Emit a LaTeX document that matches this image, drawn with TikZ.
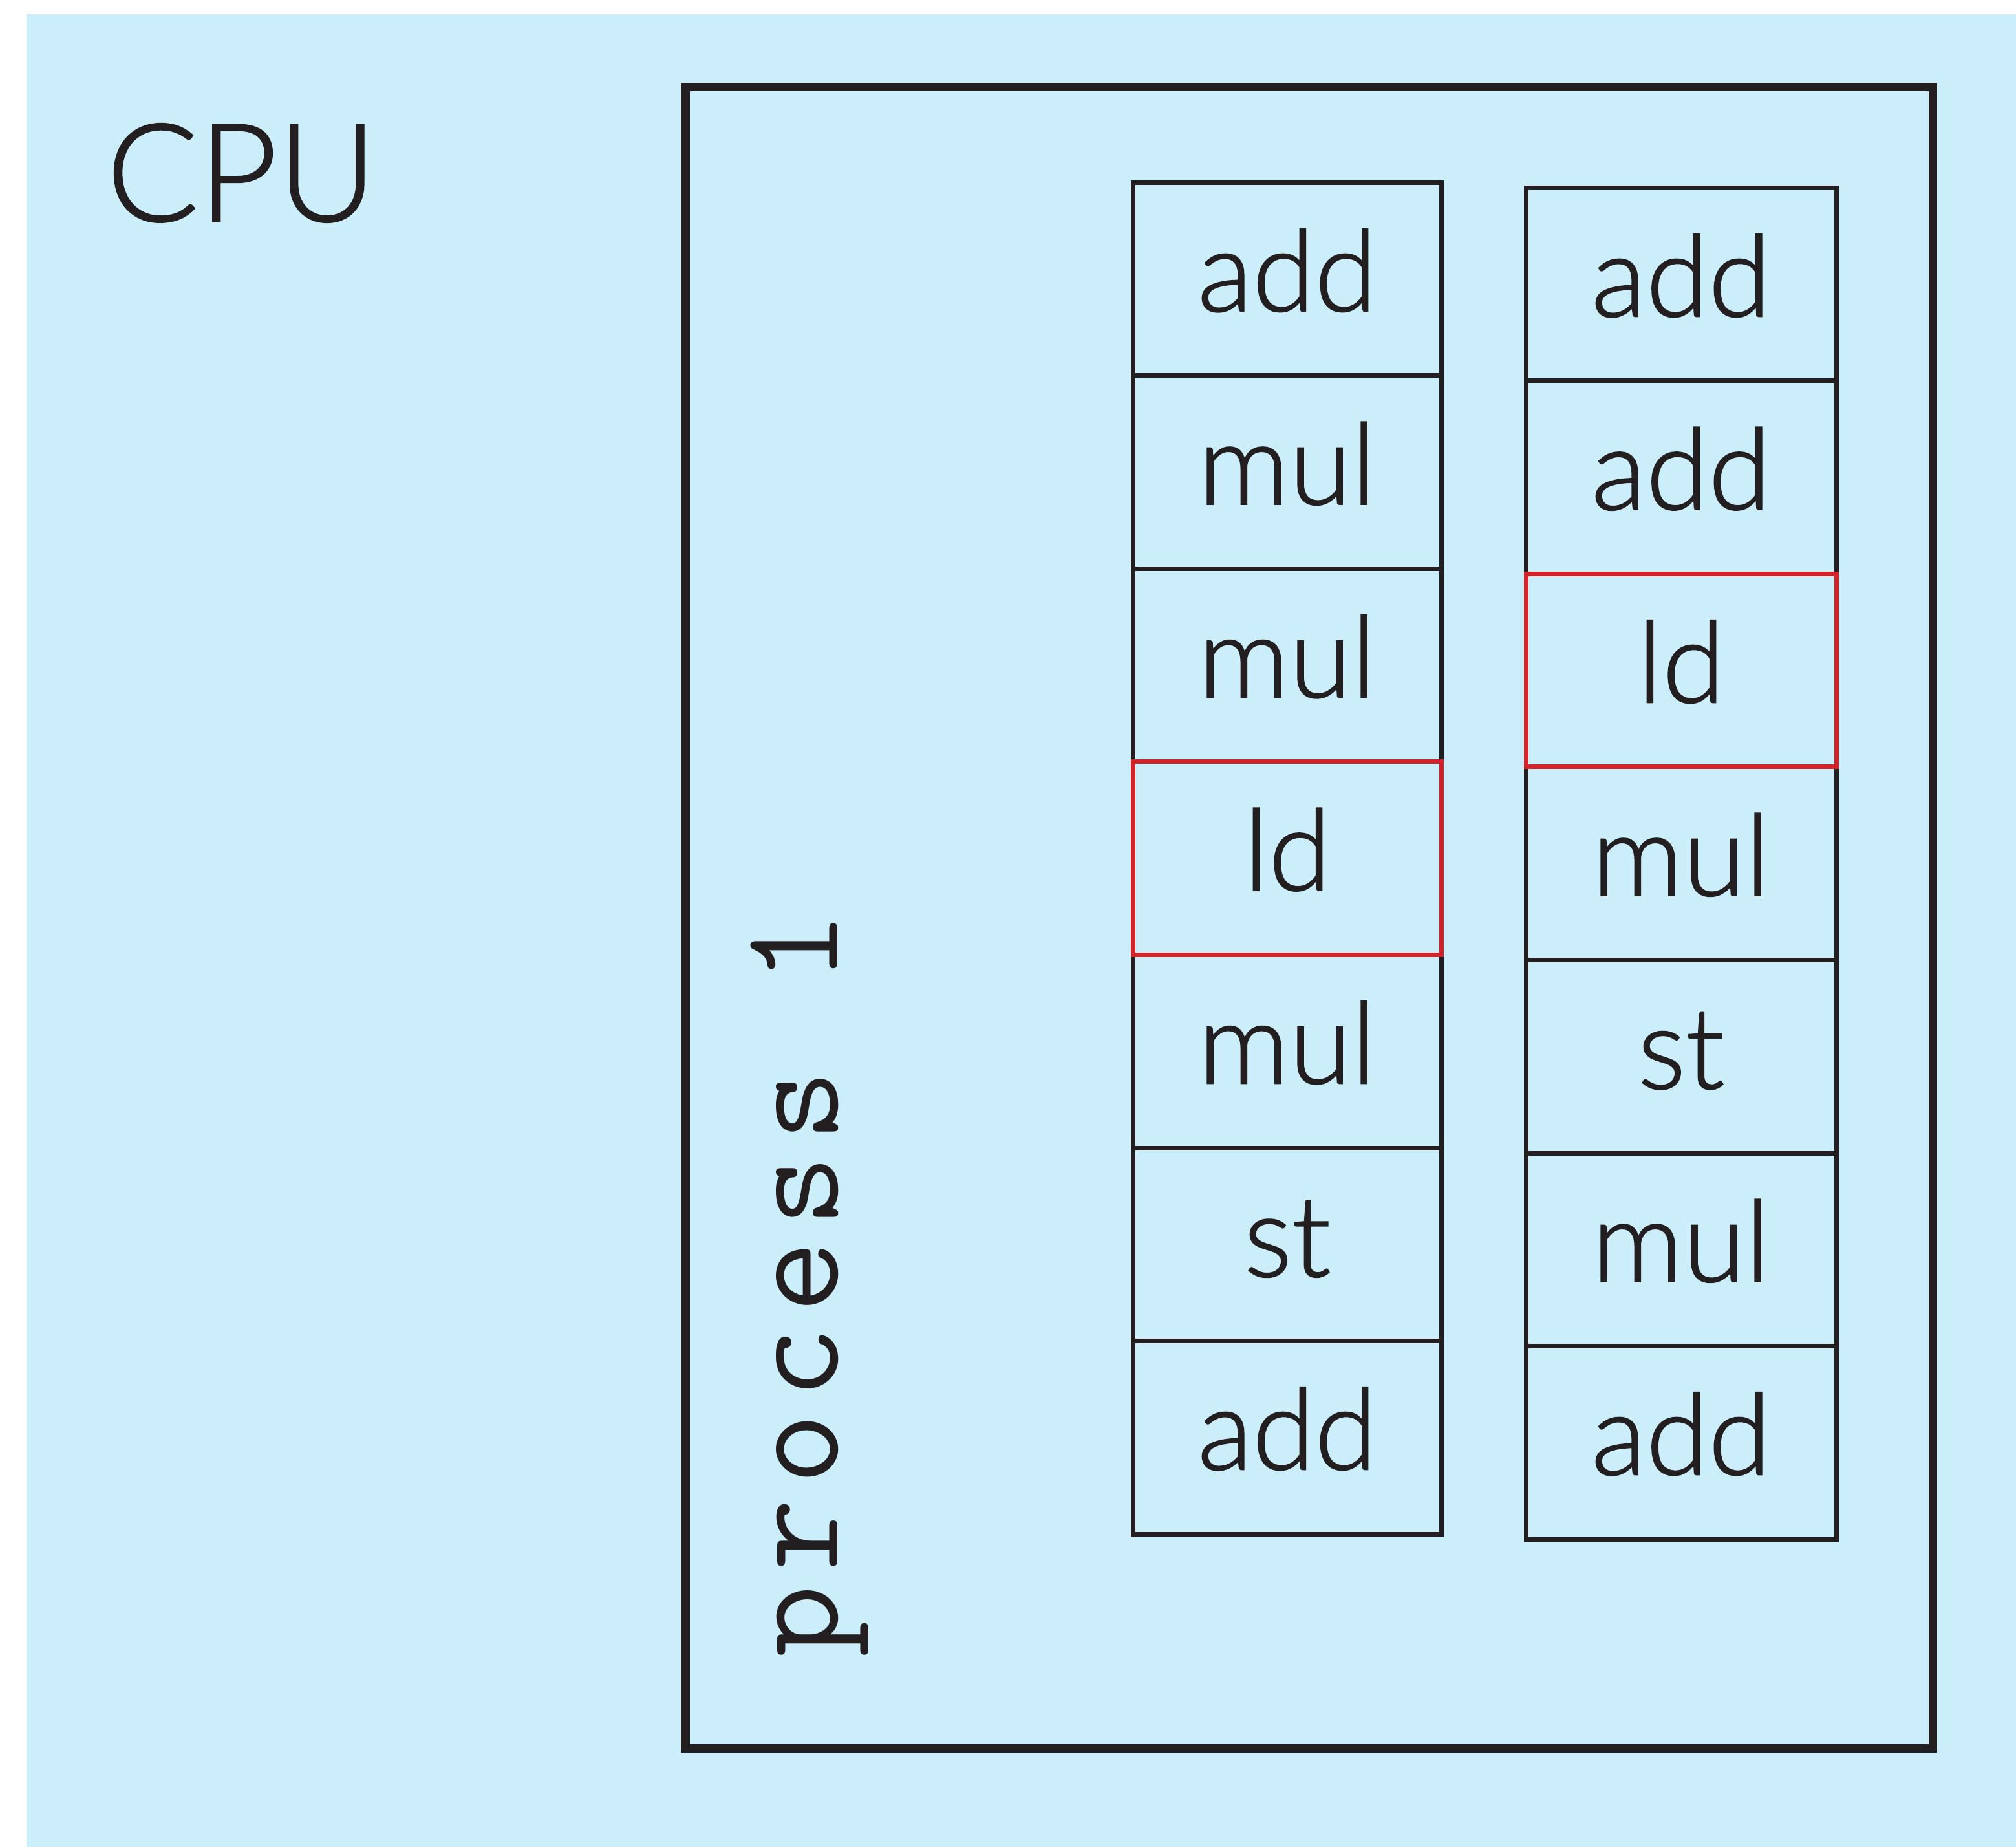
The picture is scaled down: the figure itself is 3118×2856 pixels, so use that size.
\documentclass[tikz,border=0pt]{standalone}
\usepackage{fontspec}
\newfontfamily\latofont[FakeBold=1.2]{Lato Light}
\newfontfamily\monofont[LetterSpace=10]{Latin Modern Mono}
\definecolor{bgcyan}{RGB}{204,238,250}
\definecolor{ink}{RGB}{35,31,32}
\definecolor{hotred}{RGB}{210,35,42}
\begin{document}
\begin{tikzpicture}[x=0.25pt,y=-0.25pt,
  cellbox/.style={draw=ink, line width=1.75pt, inner sep=0pt, outer sep=0pt,
    minimum height=74.625pt, text height=24.75pt, text depth=0pt,
    font=\latofont\fontsize{43.75pt}{50pt}\selectfont, text=ink},
  colA/.style={cellbox, minimum width=119.25pt},
  colB/.style={cellbox, minimum width=120pt},
  redcell/.style={draw=hotred}]
\useasboundingbox (0,0) rectangle (3118,2856);
\fill[bgcyan] (41,22) rectangle (3118,2856);
% outer process box
\node[draw=ink, line width=3.33pt, inner sep=0pt, outer sep=0pt,
  minimum width=482.375pt, minimum height=642.3pt] (proc) at (2024.75,1418.9) {};
% CPU label
\node[anchor=base west, inner sep=0pt, text=ink,
  font=\latofont\fontsize{52.7pt}{60pt}\selectfont] (cpu) at (164,342) {CPU};
% process 1 label
\node[rotate=90, anchor=base, inner sep=0pt, text=ink,
  font=\monofont\fontsize{54pt}{60pt}\selectfont] (plabel) at (1295,1986) {process 1};
% left column
\node[colA] (a1) at (1991,431.75) {add};
\node[colA] (a2) at (1991,730.25) {mul};
\node[colA] (a3) at (1991,1028.75) {mul};
\node[colA] (a5) at (1991,1625.75) {mul};
\node[colA] (a6) at (1991,1924.25) {st};
\node[colA] (a7) at (1991,2222.75) {add};
\node[colA, redcell] (a4) at (1991,1327.25) {ld};
% right column
\node[colB] (b1) at (2600,439.75) {add};
\node[colB] (b2) at (2600,738.25) {add};
\node[colB] (b4) at (2600,1335.25) {mul};
\node[colB] (b5) at (2600,1633.75) {st};
\node[colB] (b6) at (2600,1932.25) {mul};
\node[colB] (b7) at (2600,2230.75) {add};
\node[colB, redcell] (b3) at (2600,1036.75) {ld};
\end{tikzpicture}
\end{document}
